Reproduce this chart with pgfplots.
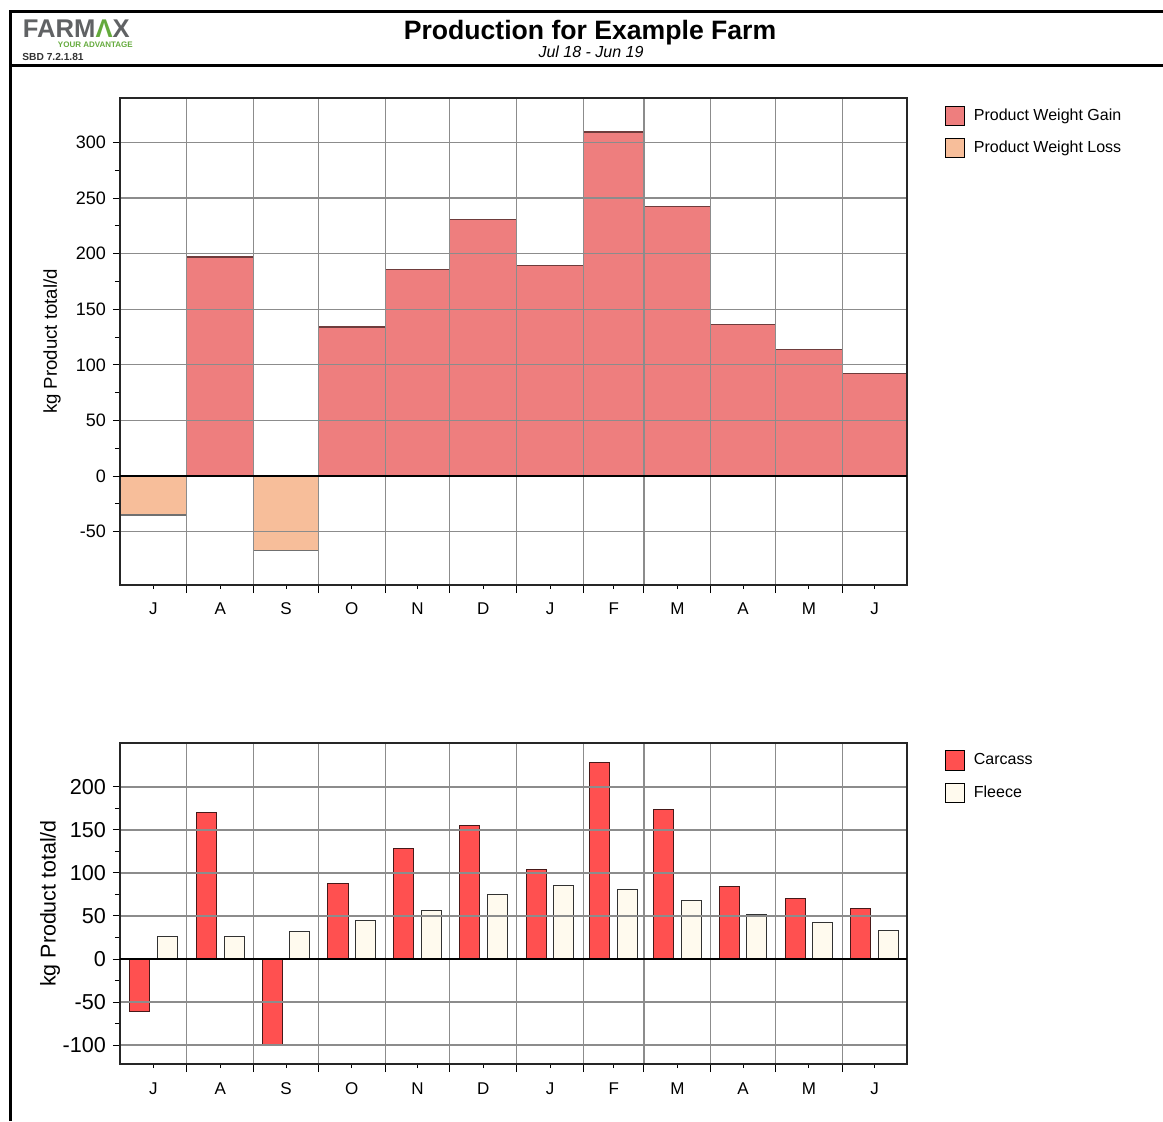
\documentclass[border=0pt]{standalone}
\usepackage{fontspec}
\setmainfont{Liberation Sans}
\usepackage{pgfplots}
\pgfplotsset{compat=1.18}

\definecolor{gain}{RGB}{238,126,126}
\definecolor{gainedge}{RGB}{110,60,60}
\definecolor{loss}{RGB}{247,190,154}
\definecolor{lossedge}{RGB}{112,112,112}
\definecolor{carcass}{RGB}{255,80,80}
\definecolor{carcassedge}{RGB}{70,25,25}
\definecolor{fleece}{RGB}{255,250,238}
\definecolor{fleeceedge}{RGB}{50,50,50}
\definecolor{gridgray}{RGB}{140,140,140}
\definecolor{logogray}{RGB}{96,98,100}
\definecolor{logogreen}{RGB}{100,170,60}

\pgfplotsset{
  sqlegend/.style={legend image code/.code={%
    \draw[##1,line width=0.5pt,draw=black] (0pt,-4.75pt) rectangle (9.5pt,4.75pt);
    \path[draw=none,fill=none] (0pt,0pt) -- (12pt,0pt);}},
  farm/.style={
    scale only axis, width=393.5pt,
    xmin=0, xmax=365,
    xtick={15.5,46.5,77,107.5,138,168.5,199.5,229,258.5,289,319.5,350},
    xticklabels={J,A,S,O,N,D,J,F,M,A,M,J},
    minor xtick={31,62,92,123,153,184,215,243,274,304,335},
    xminorgrids=true, ymajorgrids=true,
    grid style={gridgray, line width=0.6pt},
    minor grid style={gridgray, line width=0.6pt},
    axis on top,
    tick align=outside, tick pos=left,
    major tick length=3.5pt, minor tick length=2.5pt,
    every minor x tick/.append style={/pgfplots/minor tick length=4pt},
    every major x tick/.append style={/pgfplots/major tick length=2pt},
    tick style={black, line width=0.5pt},
    axis line style={black!85, line width=0.6pt},
    minor y tick num=1,
    extra y ticks={0}, extra y tick labels={},
    extra y tick style={grid=major, major grid style={black, line width=0.7pt}},
    /pgf/number format/assume math mode=true,
    xticklabel style={font=\fontsize{8.5}{10}\selectfont, yshift=-2pt},
    legend style={at={(1,1)}, anchor=north west, draw=none, fill=none,
      xshift=19pt, yshift=-3pt, font=\fontsize{8}{9.6}\selectfont,
      row sep=5pt, cells={anchor=west}, inner sep=0pt},
  },
}

\begin{document}
\begin{tikzpicture}
\useasboundingbox (0,0) rectangle (581.5pt,-560.5pt);

% header frame
\draw[line width=1.3pt] (5.35pt,-560.5pt) -- (5.35pt,-5.65pt) -- (581.5pt,-5.65pt);
\draw[line width=1.5pt] (5.35pt,-32.5pt) -- (581.5pt,-32.5pt);

% logo and titles
\node[anchor=base west, inner sep=0pt, text=logogray, font=\bfseries\fontsize{12.8}{14}\selectfont]
  at (11.3pt,-18.6pt) {FARM\textcolor{logogreen}{Λ}X};
\node[anchor=base east, inner sep=0pt, text=logogreen, font=\bfseries\fontsize{4}{5}\selectfont]
  at (66.6pt,-23.8pt) {YOUR ADVANTAGE};
\node[anchor=base west, inner sep=0pt, text=black!80, font=\bfseries\fontsize{5.1}{6}\selectfont]
  at (11pt,-30pt) {SBD 7.2.1.81};
\node[anchor=base, inner sep=0pt, font=\bfseries\fontsize{13.3}{15}\selectfont]
  at (295pt,-19.6pt) {Production for Example Farm};
\node[anchor=base, inner sep=0pt, font=\itshape\fontsize{8}{9}\selectfont]
  at (295.5pt,-28.8pt) {Jul 18 - Jun 19};

% top chart
\begin{axis}[farm,
  at={(60pt,-292.5pt)}, anchor=south west, height=243.5pt,
  ymin=-98, ymax=340, ytick={-50,0,...,300},
  yticklabel style={font=\fontsize{9}{10}\selectfont},
  ylabel={kg Product total/d},
  ylabel style={at={(rel axis cs:0,0.5)}, anchor=center, yshift=34pt,
    font=\fontsize{9.3}{10}\selectfont},
]
\addplot[ybar interval, fill=gain, draw=gainedge, line width=0.6pt, sqlegend] coordinates {
  (0,0) (31,197) (62,0) (92,134) (123,185.5) (153,231) (184,189.5)
  (215,309.5) (243,242.5) (274,136.3) (304,113.5) (335,92) (365,0)
};
\addplot[ybar interval, fill=loss, draw=lossedge, line width=0.6pt, sqlegend] coordinates {
  (0,-35) (31,0) (62,-67.3) (92,0)
};
\legend{Product Weight Gain, Product Weight Loss}
\end{axis}

% bottom chart
\begin{axis}[farm,
  at={(60pt,-532pt)}, anchor=south west, height=160.5pt,
  ymin=-122, ymax=251, ytick={-100,-50,...,200},
  yticklabel style={font=\fontsize{10.8}{12}\selectfont},
  xticklabel style={yshift=-0.5pt},
  ylabel={kg Product total/d},
  ylabel style={at={(rel axis cs:0,0.5)}, anchor=center, yshift=35pt,
    font=\fontsize{10.7}{12}\selectfont},
]
\addplot[ybar, bar width=9.3, bar shift=-6.4, fill=carcass, draw=carcassedge, line width=0.5pt, sqlegend] coordinates {
  (15.5,-61.3) (46.5,170.6) (77,-99.5) (107.5,87.6) (138,128.7) (168.5,155)
  (199.5,103.8) (229,228) (258.5,173.3) (289,84.7) (319.5,70.5) (350,58.5)
};
\addplot[ybar, bar width=9.3, bar shift=6.4, fill=fleece, draw=fleeceedge, line width=0.5pt, sqlegend] coordinates {
  (15.5,26) (46.5,26) (77,32) (107.5,45.3) (138,56.2) (168.5,75.2)
  (199.5,85.6) (229,80.6) (258.5,68) (289,51.8) (319.5,42.6) (350,33)
};
\legend{Carcass, Fleece}
\end{axis}
\end{tikzpicture}
\end{document}
